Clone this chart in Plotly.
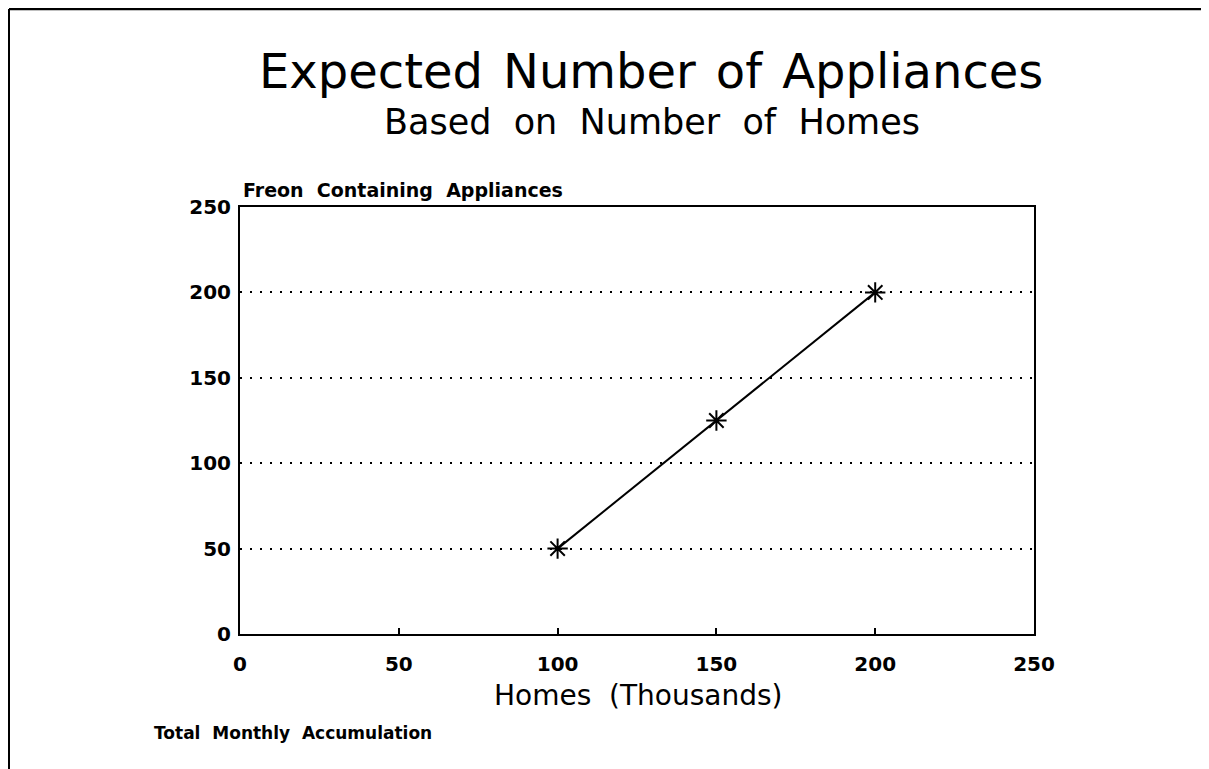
import plotly.graph_objects as go

homes = [100, 150, 200]
appliances = [50, 125, 200]
tick_vals = [0, 50, 100, 150, 200, 250]

# page offset caused by default body margin
OFF = 8
FW, FH = 1209 - OFF, 769 - OFF
# plot area in page pixels
PL, PR, PT, PB = 240, 1034, 207, 634
L, R, T, B = PL - OFF, PR - OFF, PT - OFF, PB - OFF


def px(x):
    return (x - OFF - L) / (R - L)


def py(y):
    return (B - (y - OFF)) / (B - T)


FONT = "DejaVu Sans, Verdana, sans-serif"
NB = "\u00a0"
HS = "\u200a"

fig = go.Figure()
fig.add_trace(go.Scatter(
    x=homes, y=appliances, mode="lines+markers",
    line=dict(color="black", width=2),
    marker=dict(symbol="asterisk-open", size=17, color="black",
                line=dict(color="black", width=2)),
    showlegend=False, cliponaxis=False,
))

tickfont = dict(family=FONT, size=20, color="black", weight="bold")
fig.update_layout(
    width=FW, height=FH,
    margin=dict(l=L, r=FW - R, t=T, b=FH - B, pad=0),
    paper_bgcolor="white", plot_bgcolor="white",
    font=dict(family=FONT, color="black"),
    xaxis=dict(range=[0, 250], tickvals=tick_vals, showgrid=False, zeroline=False,
               showline=True, linecolor="black", linewidth=2, mirror=True,
               ticks="inside", ticklen=6, tickcolor="black", tickwidth=1.5,
               tickfont=tickfont, ticklabelstandoff=11),
    yaxis=dict(range=[0, 250], tickvals=tick_vals, showgrid=True, gridcolor="black",
               griddash="2px,8px", gridwidth=2, zeroline=False,
               showline=True, linecolor="black", linewidth=2, mirror=True,
               ticks="", tickfont=tickfont, ticklabelstandoff=3),
)

sp1 = NB + HS
sp2 = NB + NB
fig.add_annotation(text=("Expected" + sp1 + "Number" + sp1 + "of" + sp1 + "Appliances"),
                   xref="paper", yref="paper", x=px(651), y=py(71),
                   xanchor="center", yanchor="middle",
                   showarrow=False, font=dict(size=48, color="black"))
fig.add_annotation(text=("Based" + sp2 + "on" + sp2 + "Number" + sp2 + "of" + sp2 + "Homes"),
                   xref="paper", yref="paper", x=px(652), y=py(122),
                   xanchor="center", yanchor="middle",
                   showarrow=False, font=dict(size=35, color="black"))
fig.add_annotation(text="<b>Freon" + sp2 + "Containing" + sp2 + "Appliances</b>",
                   xref="paper", yref="paper", x=px(241), y=py(190),
                   xanchor="left", yanchor="middle",
                   showarrow=False, font=dict(size=19, color="black"))
fig.add_annotation(text="Homes" + sp2 + "(Thousands)", xref="paper", yref="paper",
                   x=px(638), y=py(695), xanchor="center", yanchor="middle",
                   showarrow=False, font=dict(size=28, color="black"))
fig.add_annotation(text="<b>Total" + sp2 + "Monthly" + sp2 + "Accumulation</b>",
                   xref="paper", yref="paper", x=px(152), y=py(733),
                   xanchor="left", yanchor="middle",
                   showarrow=False, font=dict(size=17, color="black"))

# page frame (top and left edges visible)
fig.add_shape(type="line", xref="paper", yref="paper",
              x0=px(9), x1=px(1209), y0=py(9), y1=py(9),
              line=dict(color="black", width=2.5))
fig.add_shape(type="line", xref="paper", yref="paper",
              x0=px(9), x1=px(9), y0=py(9), y1=py(769),
              line=dict(color="black", width=2))

fig.write_html("out.html")
